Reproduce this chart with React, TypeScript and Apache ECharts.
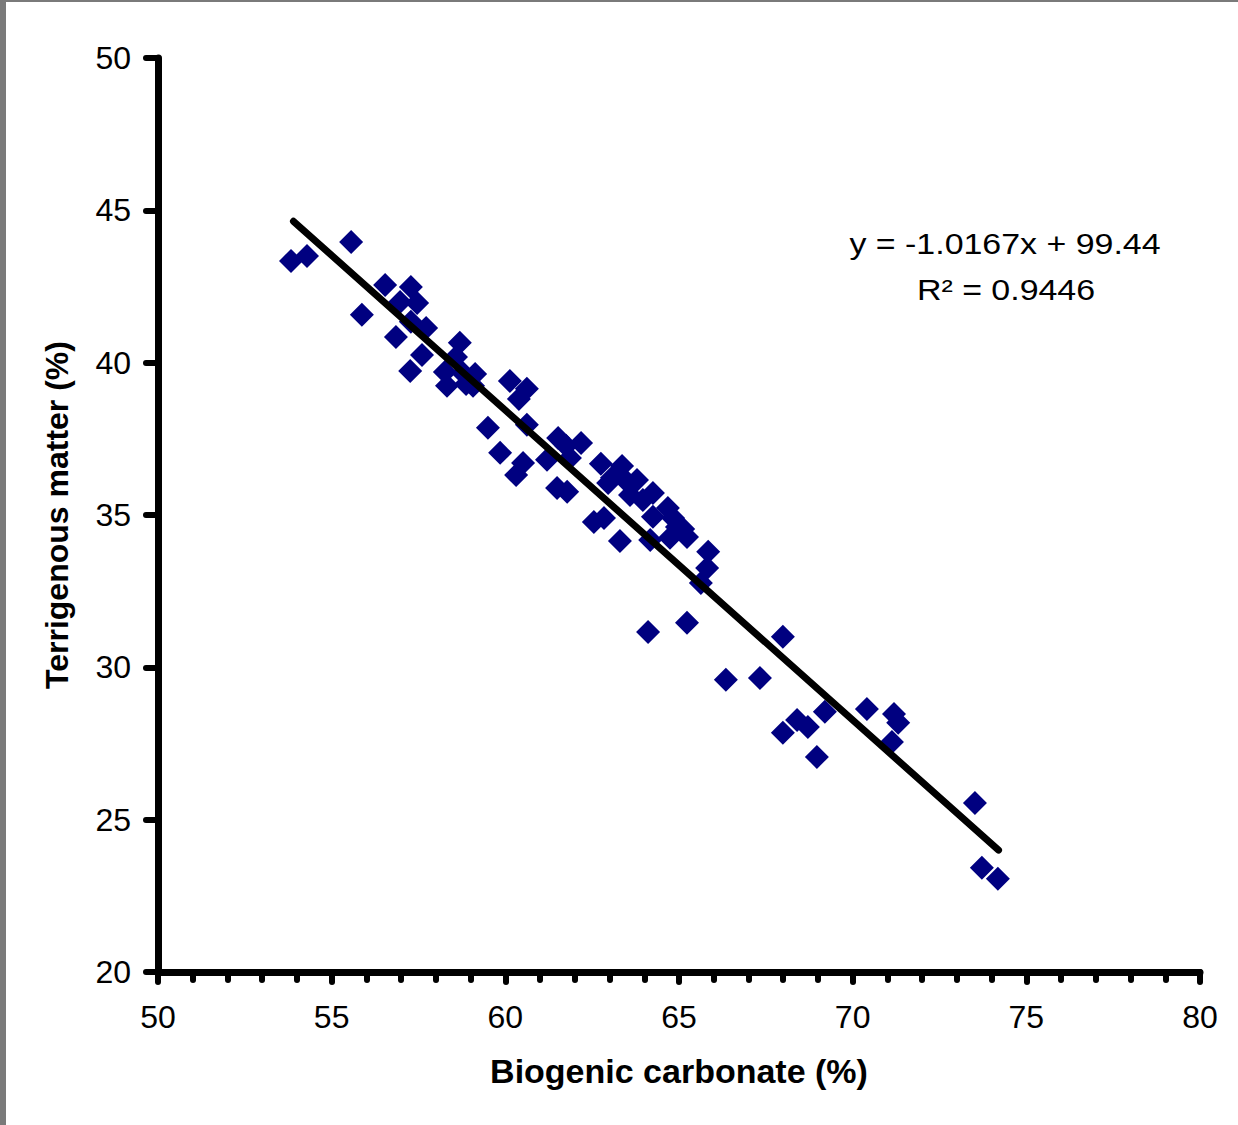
import React, { useEffect, useRef } from "react";
import * as echarts from "echarts";

const FONT = "'Liberation Sans', Arial, sans-serif";

// Biogenic carbonate (%) values
const carbonate: number[] = [
  53.83, 54.29, 55.56, 55.87, 56.54, 56.85, 56.97, 57.28, 57.46, 57.26,
  57.28, 57.72, 57.6, 58.32, 58.26, 58.69, 58.58, 58.87, 59.13, 59.5,
  59.85, 60.13, 60.39, 60.62, 60.31, 60.51, 60.62, 61.2, 61.52, 61.49,
  61.78, 61.75, 61.86, 62.18, 62.55, 62.84, 62.75, 62.96, 63.3, 63.36,
  63.07, 63.79, 63.59, 63.96, 64.25, 64.17, 64.68, 64.94, 64.74, 65.23,
  65.12, 64.11, 65.23, 65.63, 65.81, 65.84, 66.35, 67.33, 67.99, 67.99,
  68.4, 68.71, 68.97, 69.2, 70.41, 71.19, 71.31, 71.13, 73.52, 73.72,
  74.18, 63.45, 64.25, 64.83, 58.78, 59.07,
];

// Terrigenous matter (%) values
const terrigenous: number[] = [
  43.34, 43.5, 43.96, 41.57, 42.55, 40.84, 41.99, 42.48, 41.96, 39.73,
  41.34, 41.14, 40.25, 39.24, 39.69, 40.65, 40.19, 39.3, 39.63, 37.86,
  37.04, 39.4, 38.81, 39.14, 36.31, 36.71, 37.96, 36.81, 37.53, 35.89,
  35.76, 37.27, 36.87, 37.36, 34.77, 34.9, 36.68, 36.05, 34.15, 36.61,
  36.22, 36.15, 35.66, 35.49, 34.94, 34.18, 35.23, 34.61, 34.25, 34.28,
  34.54, 31.16, 31.46, 32.77, 33.26, 33.79, 29.59, 29.65, 31.0, 27.85,
  28.27, 28.04, 27.06, 28.54, 28.63, 28.47, 28.18, 27.55, 25.55, 23.42,
  23.06, 36.15, 35.72, 34.9, 39.66, 39.24,
];

// Trend line end points (as drawn)
const trendX: number[] = [53.9, 74.2];
const trendY: number[] = [44.64, 24.0];

const xTicks = { min: 50, max: 80, interval: 5 };
const yTicks = { min: 20, max: 50, interval: 5 };

const equationText = "y = -1.0167x + 99.44";
const r2Text = "R² = 0.9446";

export default function App() {
  const ref = useRef<HTMLDivElement>(null);

  useEffect(() => {
    if (!ref.current) return;
    const chart = echarts.init(ref.current, undefined, { renderer: "svg" });
    const scatterData = carbonate.map((x, i) => [x, terrigenous[i]]);
    const trendData = trendX.map((x, i) => [x, trendY[i]]);

    chart.setOption({
      animation: false,
      backgroundColor: "#ffffff",
      grid: { left: 158, top: 58, right: 38, bottom: 153, containLabel: false },
      xAxis: {
        type: "value",
        min: xTicks.min,
        max: xTicks.max,
        interval: xTicks.interval,
        name: "Biogenic carbonate (%)",
        nameLocation: "middle",
        nameGap: 82,
        nameTextStyle: { fontFamily: FONT, fontSize: 34, fontWeight: "bold", color: "#000" },
        axisLine: { lineStyle: { color: "#000", width: 7, cap: "round" } },
        axisTick: { show: true, length: 10, lineStyle: { color: "#000", width: 6, cap: "round" } },
        minorTick: { show: true, splitNumber: 5, length: 8, lineStyle: { color: "#000", width: 6, cap: "round" } },
        splitLine: { show: false },
        minorSplitLine: { show: false },
        axisLabel: { fontFamily: FONT, fontSize: 32, color: "#000", margin: 29 },
      },
      yAxis: {
        type: "value",
        min: yTicks.min,
        max: yTicks.max,
        interval: yTicks.interval,
        name: "Terrigenous matter (%)",
        nameLocation: "middle",
        nameGap: 85,
        nameTextStyle: { fontFamily: FONT, fontSize: 32, fontWeight: "bold", color: "#000" },
        axisLine: { show: true, lineStyle: { color: "#000", width: 7, cap: "round" } },
        axisTick: { show: true, length: 12, lineStyle: { color: "#000", width: 6, cap: "round" } },
        splitLine: { show: false },
        axisLabel: { fontFamily: FONT, fontSize: 32, color: "#000", margin: 27 },
      },
      series: [
        {
          type: "scatter",
          data: scatterData,
          symbol: "diamond",
          symbolSize: 24,
          itemStyle: { color: "#000080", opacity: 1 },
          z: 2,
        },
        {
          type: "line",
          data: trendData,
          showSymbol: false,
          symbol: "none",
          lineStyle: { color: "#000", width: 7, cap: "round" },
          z: 3,
        },
      ],
      graphic: [
        { type: "rect", left: 0, top: 0, shape: { width: 6, height: 1125 }, style: { fill: "#7a7a7a" }, z: 100 },
        { type: "rect", left: 0, top: 0, shape: { width: 1238, height: 2 }, style: { fill: "#7a7a7a" }, z: 100 },
        {
          type: "text",
          x: 1005,
          y: 244,
          scaleX: 1.17,
          style: {
            text: equationText,
            fontFamily: FONT,
            fontSize: 29,
            fill: "#000",
            align: "center",
            verticalAlign: "middle",
          },
          z: 50,
        },
        {
          type: "text",
          x: 1006,
          y: 290,
          scaleX: 1.17,
          style: {
            text: r2Text,
            fontFamily: FONT,
            fontSize: 29,
            fill: "#000",
            align: "center",
            verticalAlign: "middle",
          },
          z: 50,
        },
      ],
    });

    return () => chart.dispose();
  }, []);

  return (
    <div
      ref={ref}
      style={{ position: "fixed", left: 0, top: 0, width: 1238, height: 1125, background: "#fff" }}
    />
  );
}
